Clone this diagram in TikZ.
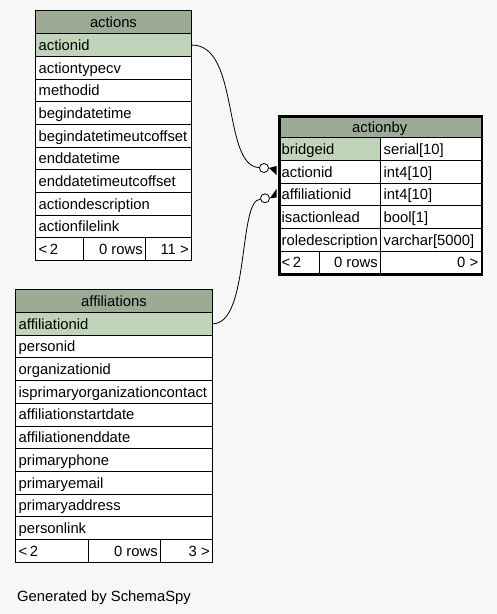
\documentclass[tikz,border=0pt]{standalone}
\usepackage{fontspec}
\setmainfont{Liberation Sans}
\definecolor{bgcol}{HTML}{F7F7F7}
\definecolor{hdrgreen}{HTML}{9BAB96}
\definecolor{pkgreen}{HTML}{BFD4B9}
\newcommand\cellfont{\fontsize{14.8}{17}\selectfont}
\tikzset{
  cell/.style={draw=black, line width=0.9pt, rectangle, anchor=north west, inner sep=0pt},
  txt/.style={font=\cellfont, inner sep=0pt, text=black},
  conn/.style={draw=black, line width=0.8pt},
  odot/.style={circle, draw=black, fill=white, line width=0.8pt, minimum size=9pt, inner sep=0pt},
}
% name, x, y, w, h, fill, text
\newcommand\cellL[7]{%
  \node[cell, fill=#6, minimum width=#4pt, minimum height=#5pt] (#1) at (#2,#3) {};
  \node[txt, anchor=base west] (#1-t) at ([xshift=3.5pt, yshift=-5.3pt]#1.west) {#7};}
\newcommand\cellR[7]{%
  \node[cell, fill=#6, minimum width=#4pt, minimum height=#5pt] (#1) at (#2,#3) {};
  \node[txt, anchor=base east] (#1-t) at ([xshift=-3pt, yshift=-5.3pt]#1.east) {#7};}
\newcommand\cellC[7]{%
  \node[cell, fill=#6, minimum width=#4pt, minimum height=#5pt] (#1) at (#2,#3) {};
  \node[txt, anchor=base] (#1-t) at ([yshift=-6pt]#1.center) {#7};}
\begin{document}
\begin{tikzpicture}[x=1pt, y=-1pt]
\fill[bgcol] (0,0) rectangle (497,614);
\useasboundingbox (0,0) rectangle (497,614);

% ---------------- actions ----------------
\cellC{acth}{35}{9.7}{156}{23.6}{hdrgreen}{actions}
\cellL{act1}{35}{33.3}{156}{22.67}{pkgreen}{actionid}
\cellL{act2}{35}{55.97}{156}{22.67}{white}{actiontypecv}
\cellL{act3}{35}{78.63}{156}{22.67}{white}{methodid}
\cellL{act4}{35}{101.3}{156}{22.67}{white}{begindatetime}
\cellL{act5}{35}{123.97}{156}{22.67}{white}{begindatetimeutcoffset}
\cellL{act6}{35}{146.63}{156}{22.67}{white}{enddatetime}
\cellL{act7}{35}{169.3}{156}{22.67}{white}{enddatetimeutcoffset}
\cellL{act8}{35}{191.97}{156}{22.67}{white}{actiondescription}
\cellL{act9}{35}{214.63}{156}{22.67}{white}{actionfilelink}
\cellL{actf1}{35}{237.3}{48}{22.67}{white}{<\,2}
\cellR{actf2}{83}{237.3}{62}{22.67}{white}{0 rows}
\cellR{actf3}{145}{237.3}{46}{22.67}{white}{11 >}

% ---------------- actionby ----------------
\cellC{abh}{278}{115.3}{202.5}{22}{hdrgreen}{actionby}
\cellL{ab1}{278}{137.3}{102}{22.67}{pkgreen}{bridgeid}
\cellL{ab1b}{380}{137.3}{100.5}{22.67}{white}{serial[10]}
\cellL{ab2}{278}{159.97}{102}{22.67}{white}{actionid}
\cellL{ab2b}{380}{159.97}{100.5}{22.67}{white}{int4[10]}
\cellL{ab3}{278}{182.63}{102}{22.67}{white}{affiliationid}
\cellL{ab3b}{380}{182.63}{100.5}{22.67}{white}{int4[10]}
\cellL{ab4}{278}{205.3}{102}{22.67}{white}{isactionlead}
\cellL{ab4b}{380}{205.3}{100.5}{22.67}{white}{bool[1]}
\cellL{ab5}{278}{227.97}{102}{22.67}{white}{roledescription}
\cellL{ab5b}{380}{227.97}{100.5}{22.67}{white}{varchar[5000]}
\cellL{abf1}{278}{250.63}{41}{22.67}{white}{<\,2}
\cellR{abf2}{319}{250.63}{61}{22.67}{white}{0 rows}
\cellR{abf3}{380}{250.63}{100.5}{22.67}{white}{0 >}
\node[draw=black, line width=2.7pt, rectangle, anchor=north west, inner sep=0pt,
      minimum width=202.5pt, minimum height=158pt] (abframe) at (278,115.3) {};

% ---------------- affiliations ----------------
\cellC{affh}{15}{289}{197}{23}{hdrgreen}{affiliations}
\cellL{aff1}{15}{312}{197}{22.7}{pkgreen}{affiliationid}
\cellL{aff2}{15}{334.7}{197}{22.7}{white}{personid}
\cellL{aff3}{15}{357.4}{197}{22.7}{white}{organizationid}
\cellL{aff4}{15}{380.1}{197}{22.7}{white}{isprimaryorganizationcontact}
\cellL{aff5}{15}{402.8}{197}{22.7}{white}{affiliationstartdate}
\cellL{aff6}{15}{425.5}{197}{22.7}{white}{affiliationenddate}
\cellL{aff7}{15}{448.2}{197}{22.7}{white}{primaryphone}
\cellL{aff8}{15}{470.9}{197}{22.7}{white}{primaryemail}
\cellL{aff9}{15}{493.6}{197}{22.7}{white}{primaryaddress}
\cellL{aff10}{15}{516.3}{197}{22.7}{white}{personlink}
\cellL{afff1}{15}{539}{73}{22.7}{white}{<\,2}
\cellR{afff2}{88}{539}{72}{22.7}{white}{0 rows}
\cellR{afff3}{160}{539}{52}{22.7}{white}{3 >}

% ---------------- connectors ----------------
\node[odot] (o1) at (264,168) {};
\node[odot] (o2) at (265,198.3) {};
\coordinate (c1a) at (276.5,166);
\coordinate (c1b) at (276.5,175);
\coordinate (c2a) at (276.5,189);
\coordinate (c2b) at (276.5,197.5);
\draw[conn] (act1.east) .. controls (240,44.6) and (222,166) .. (o1.175);
\fill[black] (o1.east) -- (c1a) -- (c1b) -- cycle;
\draw[conn] (aff1.east) .. controls (250,323.3) and (238,200) .. (o2.190);
\fill[black] (o2.east) -- (c2a) -- (c2b) -- cycle;

% ---------------- footer text ----------------
\node[txt, anchor=base west] (gen) at (17,601) {Generated by SchemaSpy};
\end{tikzpicture}
\end{document}
